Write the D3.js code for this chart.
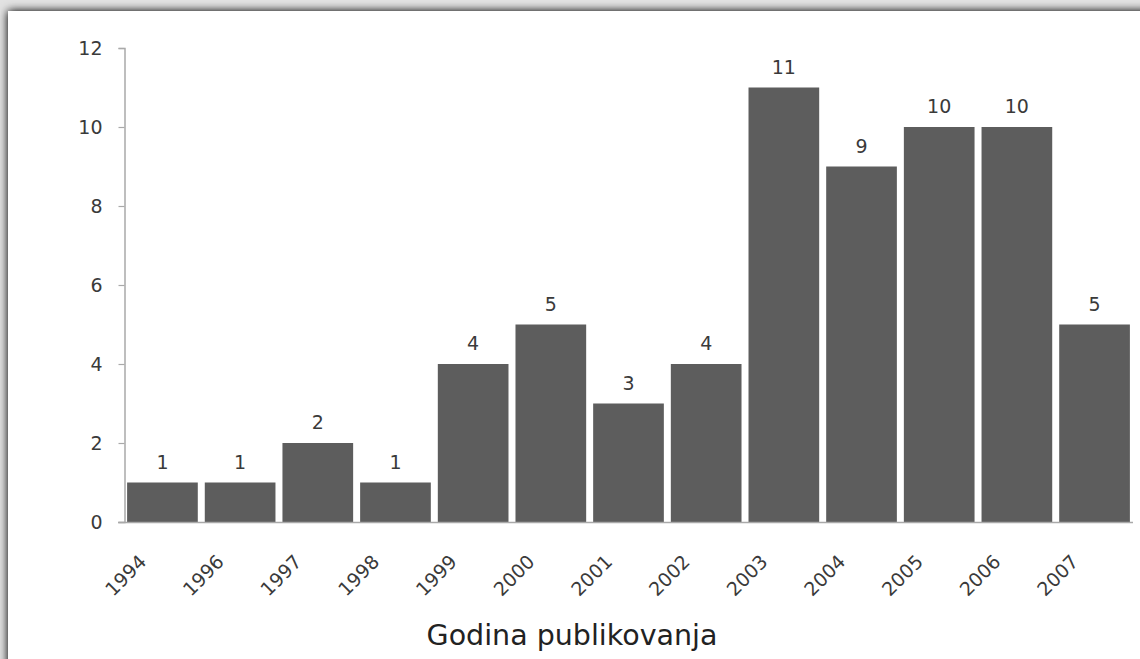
<!DOCTYPE html>
<html>
<head>
<meta charset="utf-8">
<script src="https://cdn.jsdelivr.net/npm/d3@7"></script>
<style>
  html, body { margin: 0; padding: 0; background: #fff; }
  svg { display: block; }
</style>
</head>
<body>
<svg id="chart" width="1140" height="659"></svg>
<script>
const categories = ["1994","1996","1997","1998","1999","2000","2001","2002","2003","2004","2005","2006","2007"];
const values = [1, 1, 2, 1, 4, 5, 3, 4, 11, 9, 10, 10, 5];
const yTicks = [0, 2, 4, 6, 8, 10, 12];
const xTitle = "Godina publikovanja";

const W = 1140, H = 659;
const svg = d3.select("#chart");

// frame with soft shadow
const defs = svg.append("defs");
const f = defs.append("filter").attr("id", "shadow")
  .attr("x", "-5%").attr("y", "-5%").attr("width", "110%").attr("height", "110%");
f.append("feGaussianBlur").attr("in", "SourceAlpha").attr("stdDeviation", 5).attr("result", "b");
f.append("feComponentTransfer").attr("in", "b").attr("result", "s")
  .append("feFuncA").attr("type", "linear").attr("slope", 1.1);
const fm = f.append("feMerge");
fm.append("feMergeNode").attr("in", "s");
fm.append("feMergeNode").attr("in", "SourceGraphic");

svg.append("rect").attr("x", 0).attr("y", 0).attr("width", W).attr("height", H).attr("fill", "#e2e2e2");
svg.append("rect").attr("x", 8).attr("y", 11).attr("width", W + 20).attr("height", H + 20)
  .attr("fill", "#ffffff").attr("filter", "url(#shadow)");

const x = d3.scaleBand().domain(categories).range([124, 1133]).paddingInner(0.09).paddingOuter(0.04);
const y = d3.scaleLinear().domain([0, 12]).range([522, 48]);

const axisColor = "#a9a9a9";
const textColor = "#3a3a3a";
const font = "'DejaVu Sans', Verdana, sans-serif";

// y axis
const yAxis = svg.append("g").attr("transform", "translate(124.5,0)")
  .call(d3.axisLeft(y).tickValues(yTicks).tickSize(6).tickPadding(16).tickFormat(d3.format("d")));
yAxis.select(".domain").attr("stroke", axisColor).attr("stroke-width", 1.5);
yAxis.selectAll(".tick line").attr("stroke", axisColor).attr("stroke-width", 1.2);
yAxis.selectAll(".tick text").attr("fill", textColor).attr("font-family", font).attr("font-size", 19);

// bars
svg.append("g").selectAll("rect").data(values).join("rect")
  .attr("x", (d, i) => x(categories[i]))
  .attr("width", x.bandwidth())
  .attr("y", d => y(d))
  .attr("height", d => y(0) - y(d))
  .attr("fill", "#5d5d5d");

// x axis line
svg.append("line").attr("x1", 118).attr("x2", 1133).attr("y1", y(0) + 0.5).attr("y2", y(0) + 0.5)
  .attr("stroke", axisColor).attr("stroke-width", 1.5);

// value labels
svg.append("g").selectAll("text").data(values).join("text")
  .attr("x", (d, i) => x(categories[i]) + x.bandwidth() / 2)
  .attr("y", d => y(d) - 14)
  .attr("text-anchor", "middle")
  .attr("font-family", font).attr("font-size", 19).attr("fill", textColor)
  .text(d => d);

// x tick labels rotated
svg.append("g").selectAll("text").data(categories).join("text")
  .attr("transform", d => `translate(${x(d) + x.bandwidth() / 2 - 15},${y(0) + 41}) rotate(-45)`)
  .attr("text-anchor", "end")
  .attr("font-family", font).attr("font-size", 19).attr("fill", textColor)
  .text(d => d);

// axis title
svg.append("text").attr("x", 572).attr("y", 645).attr("text-anchor", "middle")
  .attr("font-family", font).attr("font-size", 28.5).attr("fill", "#222222")
  .text(xTitle);
</script>
</body>
</html>
